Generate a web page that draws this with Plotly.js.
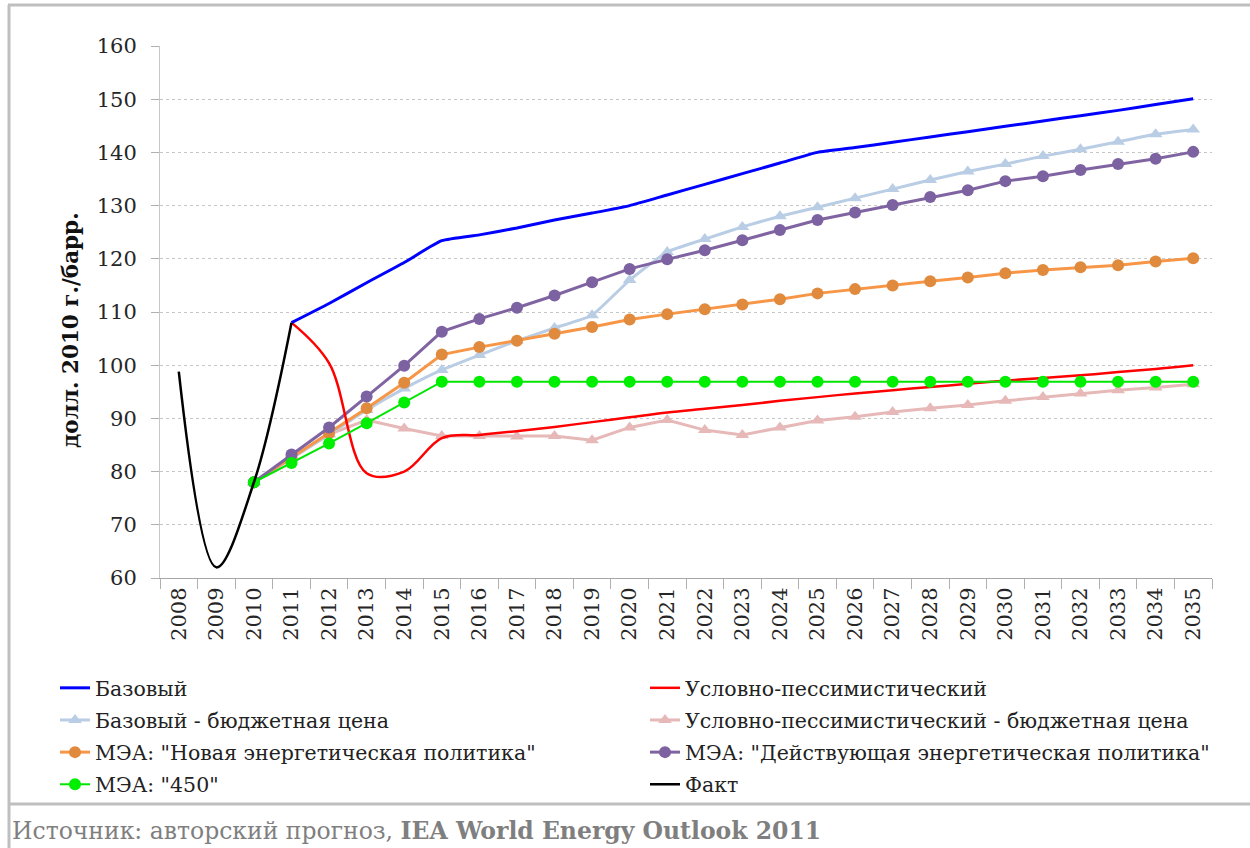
<!DOCTYPE html>
<html>
<head>
<meta charset="utf-8">
<script src="https://cdn.plot.ly/plotly-3.0.1.min.js"></script>
<style>html,body{margin:0;padding:0;background:#fff;}#chart{width:1250px;height:848px;}</style>
</head>
<body>
<div id="chart"></div>
<script>
const years = ["2008","2009","2010","2011","2012","2013","2014","2015","2016","2017","2018","2019","2020","2021","2022","2023","2024","2025","2026","2027","2028","2029","2030","2031","2032","2033","2034","2035"];

const fact = [98.8, 62, 78, 108, null,null,null,null,null,null,null,null,null,null,null,null,null,null,null,null,null,null,null,null,null,null,null,null];
const baseline = [null,null,null, 108, 111.6, 115.5, 119.3, 123.4, 124.5, 125.8, 127.3, 128.6, 130.0, 132.0, 134.0, 136.0, 138.0, 140.0, 140.9, 141.9, 142.9, 143.9, 144.9, 145.9, 146.9, 147.9, 149.0, 150.1];
const pessimistic = [null,null,null, 108, 100.4, 79.7, 80.0, 86.3, 86.9, 87.6, 88.4, 89.3, 90.2, 91.1, 91.8, 92.5, 93.3, 94.0, 94.7, 95.3, 95.9, 96.5, 97.1, 97.6, 98.1, 98.7, 99.3, 100.0];
const baselineBudget = [null,null, 78, 82.5, 87.0, 91.6, 95.6, 99.1, 101.9, 104.6, 107.0, 109.4, 116.0, 121.3, 123.7, 126.0, 128.0, 129.7, 131.4, 133.1, 134.8, 136.4, 137.8, 139.3, 140.6, 142.0, 143.4, 144.3];
const pessimisticBudget = [null,null, 78, 82.5, 87.0, 89.7, 88.1, 86.7, 86.7, 86.6, 86.7, 85.9, 88.3, 89.7, 87.8, 86.9, 88.3, 89.6, 90.3, 91.2, 91.9, 92.5, 93.3, 94.0, 94.7, 95.3, 95.8, 96.4];
const ieaNewPolicies = [null,null, 78, 82.6, 87.2, 91.9, 96.7, 102.0, 103.4, 104.6, 105.9, 107.2, 108.6, 109.6, 110.5, 111.4, 112.4, 113.5, 114.3, 115.0, 115.8, 116.5, 117.3, 117.9, 118.4, 118.8, 119.5, 120.1];
const ieaCurrentPolicies = [null,null, 78, 83.2, 88.3, 94.1, 99.9, 106.3, 108.7, 110.8, 113.1, 115.6, 118.1, 119.9, 121.6, 123.5, 125.4, 127.3, 128.7, 130.1, 131.6, 132.9, 134.6, 135.5, 136.7, 137.8, 138.8, 140.1];
const iea450 = [null,null, 78, 81.6, 85.3, 89.1, 93.0, 96.9, 96.9, 96.9, 96.9, 96.9, 96.9, 96.9, 96.9, 96.9, 96.9, 96.9, 96.9, 96.9, 96.9, 96.9, 96.9, 96.9, 96.9, 96.9, 96.9, 96.9];

const names = {
  baseline: "Базовый",
  pessimistic: "Условно-пессимистический",
  baselineBudget: "Базовый - бюджетная цена",
  pessimisticBudget: "Условно-пессимистический - бюджетная цена",
  ieaNew: "МЭА: \"Новая энергетическая политика\"",
  ieaCurrent: "МЭА: \"Действующая энергетическая политика\"",
  iea450: "МЭА: \"450\"",
  fact: "Факт"
};

const serif = "DejaVu Serif, Liberation Serif, serif";

const traces = [
  {name: names.pessimisticBudget, y: pessimisticBudget, legend: "legend2", legendrank: 2, mode: "lines+markers",
   line: {color: "#e6b9b8", width: 3}, marker: {symbol: "triangle-up", size: 12, color: "#e6b9b8"}},
  {name: names.baselineBudget, y: baselineBudget, legend: "legend", legendrank: 2, mode: "lines+markers",
   line: {color: "#b9cde5", width: 3, shape: "spline", smoothing: 0.4}, marker: {symbol: "triangle-up", size: 12, color: "#b9cde5"}},
  {name: names.ieaNew, y: ieaNewPolicies, legend: "legend", legendrank: 3, mode: "lines+markers",
   line: {color: "#f79646", width: 3}, marker: {symbol: "circle", size: 12, color: "#e08a3e"}},
  {name: names.ieaCurrent, y: ieaCurrentPolicies, legend: "legend2", legendrank: 3, mode: "lines+markers",
   line: {color: "#8064a2", width: 3}, marker: {symbol: "circle", size: 12, color: "#7c62a0"}},
  {name: names.pessimistic, y: pessimistic, legend: "legend2", legendrank: 1, mode: "lines",
   line: {color: "#ff0000", width: 2.5, shape: "spline", smoothing: 1}},
  {name: names.iea450, y: iea450, legend: "legend", legendrank: 4, mode: "lines+markers",
   line: {color: "#00e600", width: 2}, marker: {symbol: "circle", size: 12, color: "#00ee00"}},
  {name: names.baseline, y: baseline, legend: "legend", legendrank: 1, mode: "lines",
   line: {color: "#0000ff", width: 3, shape: "spline", smoothing: 0.5}},
  {name: names.fact, y: fact, legend: "legend2", legendrank: 4, mode: "lines",
   line: {color: "#000000", width: 2.5, shape: "spline", smoothing: 1}}
].map((t, i) => Object.assign({type: "scatter", x: years, hoverinfo: "x+y+name", legendgroup: "g" + i}, t));

// pixel helpers for paper coordinates (plot area: x 160..1212, y 46..578)
const L = 160, R = 1212, T = 46, B = 578;
const px = v => (v - L) / (R - L);
const py = v => (B - v) / (B - T);

const legendCommon = {
  orientation: "v", yanchor: "top", xanchor: "left", traceorder: "grouped", tracegroupgap: 2.5,
  font: {family: serif, size: 20.5, color: "#222222"}, bgcolor: "rgba(0,0,0,0)", borderwidth: 0
};

const layout = {
  width: 1250, height: 848,
  margin: {l: L, r: 1250 - R, t: T, b: 848 - B, pad: 0, autoexpand: false},
  paper_bgcolor: "#ffffff", plot_bgcolor: "#ffffff",
  font: {family: serif, color: "#222222"},
  showlegend: true,
  legend: Object.assign({x: px(55), y: py(668)}, legendCommon),
  legend2: Object.assign({x: px(645), y: py(668)}, legendCommon),
  xaxis: {
    type: "category", range: [-0.5, 27.5],
    tickson: "boundaries", ticks: "outside", ticklen: 10, tickcolor: "#b0b0b0",
    showline: true, linecolor: "#a6a6a6", linewidth: 1,
    showgrid: false, zeroline: false, tickangle: -90,
    tickfont: {family: serif, size: 21, color: "#262626"}
  },
  yaxis: {
    range: [60, 160], dtick: 10, tick0: 60,
    ticks: "outside", ticklen: 8, tickcolor: "#b0b0b0",
    showline: true, linecolor: "#c8c8c8", linewidth: 1,
    showgrid: true, gridcolor: "#c6c6c6", griddash: "3px,3px", gridwidth: 1,
    zeroline: false, ticklabelstandoff: 10,
    tickfont: {family: serif, size: 21, color: "#262626"}
  },
  annotations: [
    {text: "<b>долл. 2010 г./барр.</b>", xref: "paper", yref: "paper", x: px(70), y: py(330),
     textangle: -90, showarrow: false, font: {family: serif, size: 21.5, color: "#111111"},
     xanchor: "center", yanchor: "middle"},
    {text: "Источник: авторский прогноз, <b>IEA World Energy Outlook 2011</b>", xref: "paper", yref: "paper",
     x: px(10), y: py(831), xanchor: "left", yanchor: "middle", showarrow: false,
     font: {family: serif, size: 23.5, color: "#7f7f7f"}}
  ],
  shapes: [
    {type: "line", xref: "paper", yref: "paper", x0: px(8), x1: px(1250), y0: py(5), y1: py(5),
     line: {color: "#bfbfbf", width: 3}},
    {type: "line", xref: "paper", yref: "paper", x0: px(8), x1: px(1250), y0: py(804), y1: py(804),
     line: {color: "#bfbfbf", width: 3}},
    {type: "line", xref: "paper", yref: "paper", x0: px(9), x1: px(9), y0: py(5), y1: py(848),
     line: {color: "#bfbfbf", width: 3}}
  ]
};

Plotly.newPlot("chart", traces, layout, {displayModeBar: false});
</script>
</body>
</html>
